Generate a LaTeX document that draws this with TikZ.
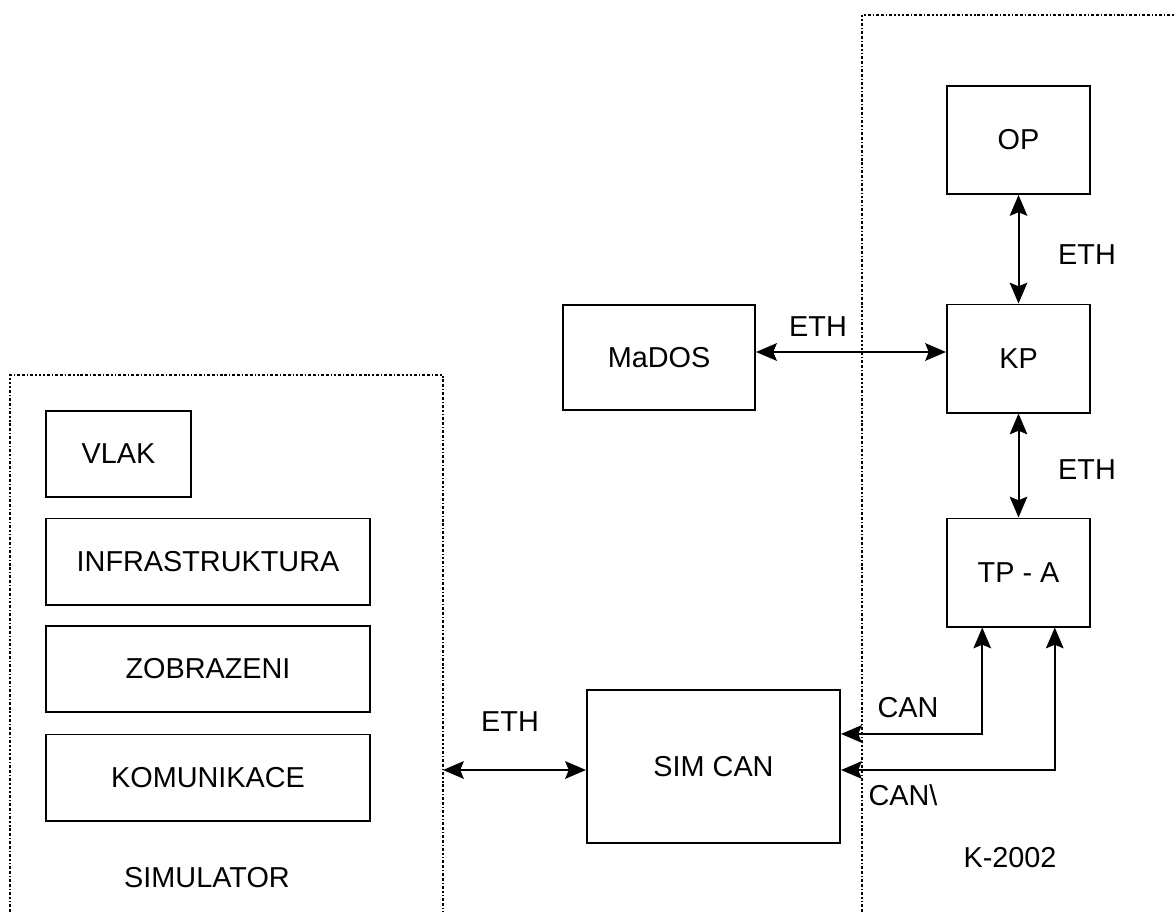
\documentclass[tikz,border=0pt]{standalone}
\usepackage{fontspec}
\setmainfont{Liberation Sans}
\usetikzlibrary{arrows.meta,calc}
\tikzset{
  block/.style={
    draw=black, line width=1.4pt, fill=white, inner sep=0pt,
    align=center, font=\fontsize{20.5}{24}\selectfont
  },
  unitbox/.style={block, minimum width=3.575cm, minimum height=2.7cm},
  simbox/.style={block, minimum width=8.1cm, minimum height=2.15cm},
  label/.style={inner sep=0pt, font=\fontsize{20.5}{24}\selectfont},
  group/.style={line width=1.1pt, dash pattern=on 2pt off 1.4pt on 2pt off 1.4pt on 0.8pt off 1.4pt},
  both/.style={{Stealth[length=5.2mm,width=4.4mm,inset=0.9mm]}-{Stealth[length=5.2mm,width=4.4mm,inset=0.9mm]}, line width=1.4pt}
}
\begin{document}
\begin{tikzpicture}[x=0.025cm,y=-0.025cm]
    \useasboundingbox (0,0) rectangle (1174,912);
    % dotted groups
    \draw[group] (10,912) -- (10,375) -- (443,375) -- (443,912);
    \draw[group] (862,912) -- (862,15) -- (1174,15);
    % K-2002
    \node[unitbox] (op) at (1018.5,140) {OP};
    \node[unitbox] (kp) at (1018.5,358.5) {KP};
    \node[unitbox] (tpa) at (1018.5,572.5) {TP - A};
    \node[block, minimum width=4.8cm, minimum height=2.625cm] (mados) at (659,357.5) {MaDOS};
    \node[block, minimum width=6.325cm, minimum height=3.825cm] (simcan) at (713.5,766.5) {SIM CAN};
    % simulator
    \node[block, minimum width=3.625cm, minimum height=2.15cm] (vlak) at (118.5,454) {VLAK};
    \node[simbox] (infra) at (208,561.5) {INFRASTRUKTURA};
    \node[simbox] (zobr) at (208,669) {ZOBRAZENI};
    \node[simbox] (komu) at (208,777.5) {KOMUNIKACE};
    \coordinate (simedge) at (443,770);
    \node[label] (simlab) at (207,878) {SIMULATOR};
    \node[label] (klab) at (1010,858) {K-2002};
    % connections
    \draw[both] (op) -- (kp);
    \draw[both] (kp) -- (tpa);
    \draw[both] (mados.east |- 0,352) -- (kp.west |- 0,352);
    \draw[both] (simedge) -- (simcan.west |- simedge);
    \coordinate (canl) at ($(tpa.south)!0.5!(tpa.south west)$);
    \coordinate (canr) at ($(tpa.south)!0.5!(tpa.south east)$);
    \draw[both] ($(simcan.east)!0.42!(simcan.north east)$) -| (canl);
    \draw[both] (simcan.east |- 0,770) -| (canr);
    \node[label] (eth1) at (1087,255) {ETH};
    \node[label] (eth2) at (1087,470) {ETH};
    \node[label] (eth3) at (818,327) {ETH};
    \node[label] (eth4) at (510,722) {ETH};
    \node[label] (can1) at (908,708) {CAN};
    \node[label] (can2) at (903,795) {CAN\textbackslash};
\end{tikzpicture}
\end{document}
